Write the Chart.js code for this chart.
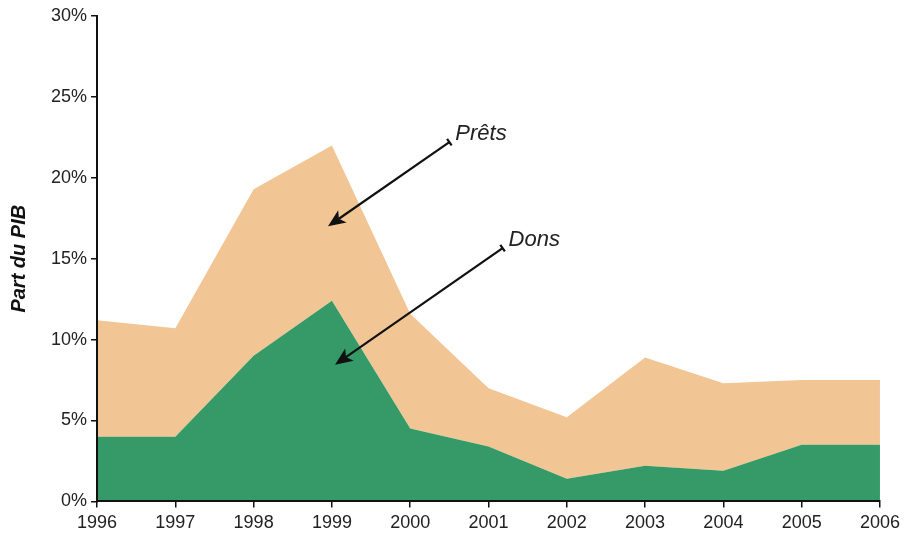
<!DOCTYPE html>
<html>
<head>
<meta charset="utf-8">
<script src="https://cdn.jsdelivr.net/npm/chart.js@4/dist/chart.umd.min.js"></script>
<style>
  html, body { margin: 0; padding: 0; background: #fff; }
  #wrap { width: 905px; height: 544px; }
</style>
</head>
<body>
<div id="wrap"><canvas id="aideChart" width="905" height="544"></canvas></div>
<script>
// années et parts du PIB (%)
const annees = ['1996', '1997', '1998', '1999', '2000', '2001', '2002', '2003', '2004', '2005', '2006'];
const dons   = [4.0, 4.0, 9.0, 12.4, 4.5, 3.4, 1.4, 2.2, 1.9, 3.5, 3.5];
const prets  = [7.2, 6.7, 10.3, 9.6, 7.1, 3.6, 3.8, 6.7, 5.4, 4.0, 4.0];
const yTicks = [0, 5, 10, 15, 20, 25, 30];

// étiquettes fléchées : position de la queue et de la pointe (index d'année, %)
const fleches = [
    { texte: 'Prêts', queue: [4.50, 22.2], pointe: [2.95, 17.0] },
    { texte: 'Dons',  queue: [5.18, 15.65], pointe: [3.04, 8.45] }
];

const police = "'Liberation Sans', Arial, sans-serif";

const flechesPlugin = {
    id: 'fleches',
    afterDatasetsDraw(chart) {
        const { ctx, scales: { x, y } } = chart;
        ctx.save();
        ctx.strokeStyle = '#111';
        ctx.fillStyle = '#111';
        ctx.lineWidth = 2.2;
        fleches.forEach(f => {
            const x0 = x.getPixelForValue(f.queue[0]);
            const y0 = y.getPixelForValue(f.queue[1]);
            const x1 = x.getPixelForValue(f.pointe[0]);
            const y1 = y.getPixelForValue(f.pointe[1]);
            const ang = Math.atan2(y1 - y0, x1 - x0);
            const tete = 19;
            // trait
            ctx.beginPath();
            ctx.moveTo(x0, y0);
            ctx.lineTo(x1 - Math.cos(ang) * tete * 0.7, y1 - Math.sin(ang) * tete * 0.7);
            ctx.stroke();
            // pointe
            ctx.beginPath();
            ctx.moveTo(x1, y1);
            ctx.lineTo(x1 - tete * Math.cos(ang - 0.4), y1 - tete * Math.sin(ang - 0.4));
            ctx.lineTo(x1 - tete * 0.7 * Math.cos(ang), y1 - tete * 0.7 * Math.sin(ang));
            ctx.lineTo(x1 - tete * Math.cos(ang + 0.4), y1 - tete * Math.sin(ang + 0.4));
            ctx.closePath();
            ctx.fill();
            // petit talon à la queue
            const px = Math.cos(ang + Math.PI / 2) * 4;
            const py = Math.sin(ang + Math.PI / 2) * 4;
            ctx.beginPath();
            ctx.moveTo(x0 - px, y0 - py);
            ctx.lineTo(x0 + px, y0 + py);
            ctx.stroke();
            // texte
            ctx.font = 'italic 22px ' + police;
            ctx.textAlign = 'left';
            ctx.textBaseline = 'bottom';
            ctx.fillStyle = '#222';
            ctx.fillText(f.texte, x0 + 6, y0 + 3);
            ctx.fillStyle = '#111';
        });
        ctx.restore();
    }
};

new Chart(document.getElementById('aideChart'), {
    type: 'line',
    data: {
        labels: annees,
        datasets: [
            {
                label: 'Dons',
                data: dons,
                fill: 'origin',
                backgroundColor: '#359a67',
                borderWidth: 0,
                pointRadius: 0,
                tension: 0
            },
            {
                label: 'Prêts',
                data: prets,
                fill: '-1',
                backgroundColor: '#f2c594',
                borderWidth: 0,
                pointRadius: 0,
                tension: 0
            }
        ]
    },
    options: {
        responsive: false,
        animation: false,
        layout: { padding: { top: 16, right: 24, left: 7, bottom: 5 } },
        plugins: {
            legend: { display: false },
            tooltip: { enabled: false }
        },
        scales: {
            x: {
                offset: false,
                grid: { z: 1, display: true, drawOnChartArea: false, drawTicks: true, tickLength: 6, color: '#111', lineWidth: 1.5 },
                border: { z: 1, display: true, color: '#111', width: 2 },
                ticks: { color: '#222', font: { family: police, size: 18 }, padding: 5, maxRotation: 0, autoSkip: false }
            },
            y: {
                stacked: true,
                min: 0,
                max: 30,
                afterBuildTicks(scale) { scale.ticks = yTicks.map(v => ({ value: v })); },
                grid: { z: 1, display: true, drawOnChartArea: false, drawTicks: true, tickLength: 6, color: '#111', lineWidth: 1.5 },
                border: { z: 1, display: true, color: '#111', width: 2 },
                ticks: {
                    color: '#222',
                    font: { family: police, size: 18 },
                    padding: 4,
                    callback: v => v + '%'
                },
                title: {
                    display: true,
                    text: 'Part du PIB',
                    color: '#111',
                    font: { family: police, size: 20, weight: 'bold', style: 'italic' },
                    padding: { top: 0, bottom: 16 }
                }
            }
        }
    },
    plugins: [flechesPlugin]
});
</script>
</body>
</html>
